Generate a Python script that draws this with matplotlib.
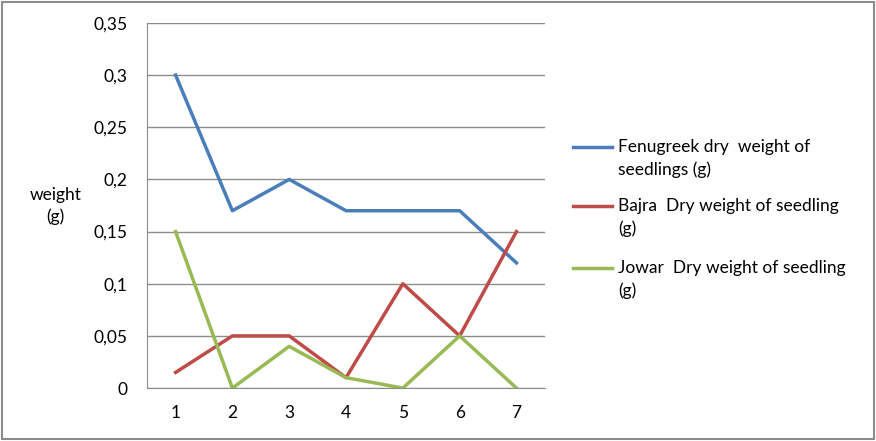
import matplotlib.pyplot as plt
from matplotlib.patches import Rectangle
from matplotlib.lines import Line2D
from matplotlib.ticker import FuncFormatter

days = [1, 2, 3, 4, 5, 6, 7]
fenugreek = [0.3, 0.17, 0.2, 0.17, 0.17, 0.17, 0.12]
bajra = [0.015, 0.05, 0.05, 0.01, 0.1, 0.05, 0.15]
jowar = [0.15, 0, 0.04, 0.01, 0, 0.05, 0]
labels = ['Fenugreek dry  weight of\nseedlings (g)',
          'Bajra  Dry weight of seedling\n(g)',
          'Jowar  Dry weight of seedling\n(g)']
colors = ['#4a7ebb', '#be4b48', '#98b954']
yticks = [0, 0.05, 0.1, 0.15, 0.2, 0.25, 0.3, 0.35]

plt.rcParams['font.family'] = ['Lato', 'DejaVu Sans']

fig = plt.figure(figsize=(8.76, 4.41), dpi=100)
ax = fig.add_axes([0.168, 0.12, 0.454, 0.828])

for vals, c in zip([fenugreek, bajra, jowar], colors):
    ax.plot(days, vals, color=c, lw=2.5)

ax.set_xlim(0.5, 7.5)
ax.set_ylim(0, 0.35)
ax.set_xticks(days)
ax.set_yticks(yticks)
ax.yaxis.set_major_formatter(FuncFormatter(lambda v, p: ('%g' % round(v, 2)).replace('.', ',')))
ax.grid(axis='y', color='#8c8c8c', lw=1)
ax.set_axisbelow(True)
for s in ['top', 'right']:
    ax.spines[s].set_visible(False)
ax.spines['left'].set_color('#8c8c8c')
ax.spines['bottom'].set_color('#8c8c8c')
ax.tick_params(axis='y', length=0, labelsize=12.5, pad=14)
ax.tick_params(axis='x', length=0, labelsize=12.5, pad=12)

fig.text(0.063, 0.533, 'weight\n(g)', ha='center', va='center', fontsize=12.5, linespacing=1.35)

# legend drawn by hand so the key line sits at the first text line
leg_y = [147, 206, 268]
for lab, c, y in zip(labels, colors, leg_y):
    fy = 1 - y / 441
    fig.add_artist(Line2D([573 / 876, 612 / 876], [fy, fy], color=c, lw=2.5))
    fig.text(618 / 876, fy + 0.018, lab, ha='left', va='top', fontsize=12.5, linespacing=1.45)

fig.patches.append(Rectangle((0.002, 0.005), 0.996, 0.99, transform=fig.transFigure,
                             fill=False, edgecolor='#8c8c8c', lw=1.5))

fig.savefig('out.png', dpi=100)
